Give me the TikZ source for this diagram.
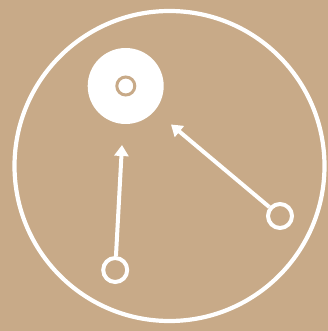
\documentclass[tikz,border=0pt]{standalone}
\usetikzlibrary{arrows.meta}
\definecolor{tan}{HTML}{C8AA88}
\begin{document}
\begin{tikzpicture}[x=1pt,y=-1pt,
  ring/.style={circle,draw=white,line width=4pt,fill=tan,minimum size=24pt,inner sep=0pt},
  conn/.style={draw=white,line width=4pt,-{Triangle[length=11pt,width=14pt]}}]
\fill[tan] (0,0) rectangle (328,331);
\useasboundingbox (0,0) rectangle (328,331);
\node[circle,draw=white,line width=4.2pt,minimum size=310pt,inner sep=0pt] (outer) at (169.5,166) {};
\node[circle,fill=white,minimum size=76pt,inner sep=0pt] (disk) at (125.7,86) {};
\node[circle,draw=tan,line width=3pt,minimum size=18pt,inner sep=0pt] (hole) at (125.8,86) {};
\node[ring] (b1) at (115.2,270) {};
\node[ring] (b2) at (280,216) {};
\coordinate (t1) at (122,145);
\coordinate (t2) at (171,124.5);
\draw[conn] (b1) -- (t1);
\draw[conn] (b2) -- (t2);
\end{tikzpicture}
\end{document}
